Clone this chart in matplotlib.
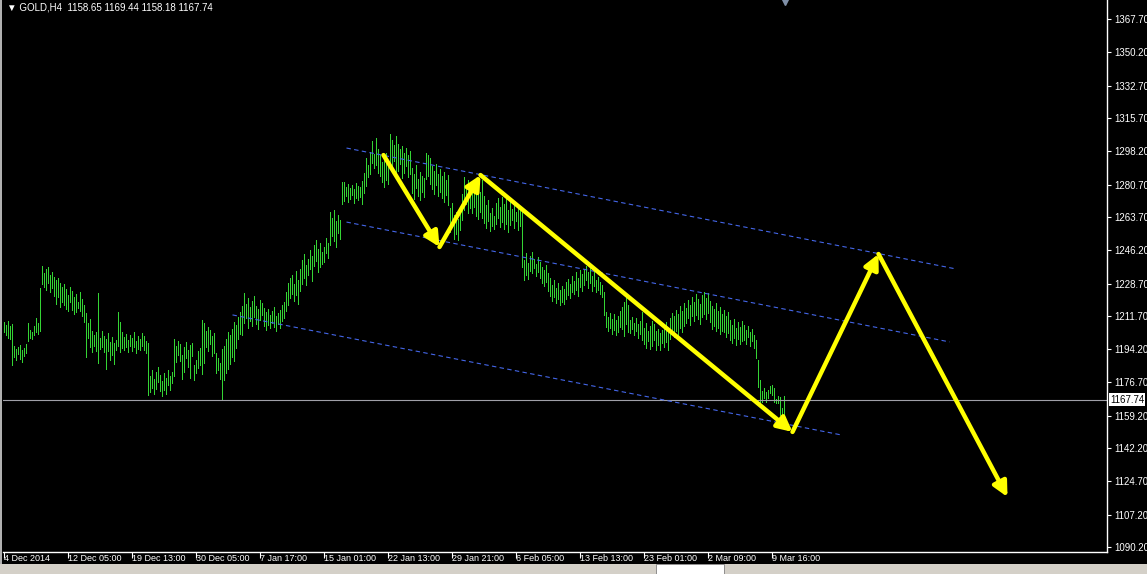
import numpy as np
import matplotlib
matplotlib.use('Agg')
import matplotlib.pyplot as plt
import matplotlib.transforms as mtransforms
from matplotlib.patches import Rectangle

plt.rcParams['font.family'] = ['Liberation Sans', 'DejaVu Sans']

# GOLD H4 bars (high / low)
highs = [
    1208.5, 1207.0, 1209.0, 1206.5, 1207.5, 1196.0, 1194.5, 1195.5, 1196.5, 1194.0,
    1195.0, 1197.0, 1208.0, 1204.5, 1203.0, 1206.5, 1210.5, 1208.0, 1226.5, 1238.0,
    1234.0, 1236.5, 1237.5, 1233.0, 1235.0, 1232.0, 1230.5, 1231.5, 1229.0, 1227.0,
    1228.5, 1226.0, 1222.5, 1227.0, 1225.0, 1221.5, 1223.0, 1219.0, 1224.0, 1220.5,
    1217.5, 1213.0, 1208.0, 1210.0, 1203.5, 1201.5, 1203.0, 1223.5, 1200.0, 1204.0,
    1201.0, 1199.5, 1202.5, 1198.0, 1200.5, 1197.5, 1199.0, 1213.5, 1208.5, 1203.0,
    1200.5, 1202.0, 1199.0, 1201.5, 1200.0, 1203.0, 1198.5, 1201.0, 1199.5, 1202.5,
    1201.0, 1198.5, 1197.5, 1180.0, 1183.5, 1178.5, 1182.0, 1185.0, 1180.5, 1177.5,
    1181.5, 1179.0, 1183.0, 1180.0, 1182.0, 1199.5, 1196.0, 1198.5, 1197.0, 1191.0,
    1195.5, 1198.0, 1194.0, 1196.5, 1197.5, 1186.0, 1188.5, 1193.0, 1195.0, 1209.5,
    1208.0, 1203.5, 1206.0, 1204.5, 1201.0, 1202.5, 1192.0, 1189.5, 1187.0, 1194.5,
    1196.0, 1199.5, 1203.0, 1201.5, 1205.0, 1208.5, 1207.0, 1211.0, 1213.5, 1217.0,
    1223.5, 1218.0, 1221.0, 1216.5, 1219.5, 1222.0, 1217.0, 1215.5, 1220.0, 1218.5,
    1216.0, 1213.5, 1215.5, 1212.0, 1214.5, 1216.5, 1211.5, 1213.0, 1215.0, 1217.5,
    1219.0, 1224.5, 1229.0, 1231.5, 1233.0, 1228.5, 1235.5, 1230.5, 1236.5, 1241.0,
    1244.0, 1238.5, 1241.5, 1246.5, 1243.0, 1249.0, 1251.5, 1247.0, 1250.0, 1245.5,
    1248.0, 1252.5, 1250.0, 1266.5, 1263.0, 1267.5, 1261.5, 1264.5, 1262.0, 1282.0,
    1282.0, 1279.5, 1281.0, 1279.0, 1280.5, 1278.5, 1281.5, 1280.0, 1279.5, 1282.5,
    1287.0, 1294.5, 1291.0, 1298.0, 1303.5, 1297.0, 1305.0, 1299.5, 1296.0, 1292.5,
    1293.5, 1297.5, 1290.5, 1307.5, 1304.0, 1301.5, 1306.0, 1302.0, 1299.5, 1301.0,
    1297.5, 1300.0, 1296.5, 1298.5, 1289.5, 1286.0, 1291.0, 1283.5, 1287.5, 1285.0,
    1284.0, 1297.5, 1296.0, 1294.5, 1290.5, 1288.0, 1291.5, 1286.0, 1289.0, 1285.0,
    1287.5, 1283.0, 1285.5, 1268.5, 1271.0, 1264.5, 1266.5, 1262.5, 1269.0, 1275.5,
    1284.5, 1280.0, 1283.0, 1278.5, 1281.5, 1279.0, 1276.0, 1280.5, 1277.0, 1283.0,
    1274.5, 1270.0, 1272.5, 1266.0, 1268.5, 1264.0, 1271.0, 1273.5, 1269.0, 1274.0,
    1270.5, 1273.0, 1267.5, 1271.5, 1268.0, 1272.0, 1266.5, 1270.0, 1268.5, 1267.5,
    1241.0, 1244.5, 1239.5, 1243.0, 1245.5, 1241.5, 1239.0, 1242.5, 1240.0, 1237.5,
    1236.0, 1238.5, 1234.0, 1231.5, 1228.0, 1230.5, 1226.5, 1229.0, 1225.5, 1227.5,
    1226.0, 1229.5, 1231.0, 1228.5, 1232.5, 1230.0, 1234.5, 1231.5, 1236.0, 1233.5,
    1236.5, 1238.0, 1234.5, 1237.0, 1232.5, 1235.0, 1230.5, 1232.0, 1229.5, 1228.0,
    1224.0, 1213.5, 1211.0, 1213.0, 1210.0, 1212.5, 1209.5, 1211.5, 1214.0, 1216.5,
    1219.0, 1222.5, 1217.5, 1209.5, 1211.0, 1208.0, 1210.5, 1207.5, 1209.0, 1213.5,
    1205.5, 1208.0, 1204.0, 1206.5, 1209.0, 1207.5, 1203.5, 1205.0, 1202.5, 1204.5,
    1206.0, 1208.5, 1205.0, 1210.5, 1213.0, 1211.5, 1215.0, 1212.5, 1217.0, 1214.5,
    1218.5, 1216.0, 1220.0, 1217.5, 1221.5, 1219.0, 1223.0, 1220.5, 1218.0, 1222.5,
    1224.0, 1221.0, 1223.5, 1219.5, 1217.0, 1215.5, 1218.5, 1214.0, 1216.5, 1212.5,
    1215.0, 1211.5, 1213.5, 1209.5, 1207.0, 1210.0, 1205.5, 1208.5, 1206.0, 1209.0,
    1207.0, 1204.5, 1206.5, 1203.0, 1205.0, 1201.5, 1199.0, 1188.5, 1178.0, 1172.0,
    1174.0, 1171.5, 1172.5, 1175.0, 1175.5, 1174.0, 1168.0, 1169.5, 1169.0, 1163.5,
    1169.44,
]
lows = [
    1203.0, 1201.5, 1200.0, 1199.5, 1186.0, 1190.0, 1188.5, 1191.5, 1189.0, 1187.5,
    1190.5, 1192.0, 1198.5, 1200.0, 1199.5, 1201.5, 1203.0, 1202.0, 1203.5, 1228.5,
    1227.0, 1225.5, 1229.0, 1224.0, 1226.5, 1222.0, 1218.0, 1221.5, 1216.5, 1219.0,
    1217.5, 1215.5, 1214.0, 1219.0, 1215.0, 1212.5, 1213.5, 1216.0, 1214.0, 1211.5,
    1208.5, 1190.0, 1200.0, 1195.5, 1192.5, 1196.0, 1193.0, 1187.0, 1194.5, 1195.5,
    1192.5, 1184.0, 1193.0, 1188.5, 1191.0, 1186.5, 1194.0, 1196.0, 1192.5, 1195.0,
    1194.0, 1195.5, 1192.5, 1196.0, 1193.0, 1195.5, 1192.0, 1194.5, 1193.5, 1196.0,
    1194.0, 1192.0, 1170.0, 1171.5, 1174.0, 1170.5, 1173.5, 1177.0, 1172.0, 1169.5,
    1172.5, 1170.5, 1175.5, 1173.0, 1176.5, 1180.0, 1187.5, 1191.0, 1188.0, 1178.5,
    1182.0, 1189.5, 1185.0, 1179.0, 1190.5, 1178.0, 1181.5, 1184.5, 1186.0, 1181.0,
    1187.0, 1195.5, 1193.0, 1197.0, 1190.5, 1192.0, 1181.5, 1183.0, 1178.5, 1167.5,
    1178.0, 1181.5, 1184.0, 1186.5, 1190.0, 1188.0, 1195.0, 1199.5, 1202.0, 1201.5,
    1208.0, 1210.5, 1205.5, 1209.0, 1206.5, 1211.0, 1207.5, 1205.0, 1209.5, 1212.0,
    1206.5, 1204.5, 1207.0, 1205.5, 1208.0, 1206.0, 1204.0, 1207.5, 1205.5, 1209.0,
    1210.5, 1214.0, 1217.5, 1221.0, 1223.0, 1219.5, 1222.5, 1218.0, 1225.0, 1228.5,
    1231.5, 1228.0, 1233.0, 1236.5, 1230.0, 1238.0, 1240.5, 1235.0, 1237.5, 1239.0,
    1240.0, 1244.5, 1242.0, 1249.0, 1253.5, 1251.0, 1248.0, 1255.5, 1252.0, 1270.5,
    1272.0, 1274.5, 1271.5, 1273.0, 1275.0, 1271.0, 1273.5, 1272.5, 1274.0, 1270.5,
    1276.5, 1280.0, 1284.5, 1286.0, 1292.0, 1289.5, 1291.0, 1287.0, 1285.0, 1282.0,
    1279.5, 1283.0, 1281.0, 1290.5, 1289.0, 1293.0, 1286.5, 1288.0, 1291.5, 1284.0,
    1287.0, 1290.5, 1284.5, 1286.0, 1276.5, 1273.0, 1279.0, 1274.5, 1272.5, 1277.0,
    1274.0, 1283.5, 1285.0, 1281.0, 1278.5, 1276.0, 1280.5, 1274.5, 1277.0, 1273.5,
    1271.5, 1275.0, 1270.0, 1256.0, 1258.5, 1252.0, 1254.5, 1251.5, 1257.0, 1262.0,
    1267.5, 1270.5, 1266.0, 1268.5, 1265.5, 1269.0, 1264.0, 1262.5, 1266.5, 1263.0,
    1260.5, 1258.0, 1261.5, 1256.5, 1259.0, 1257.5, 1260.0, 1263.0, 1258.5, 1261.0,
    1257.5, 1260.0, 1256.0, 1259.5, 1262.0, 1258.0, 1261.5, 1257.0, 1259.0, 1237.5,
    1230.5, 1233.0, 1231.0, 1235.5, 1234.0, 1237.0, 1232.5, 1235.0, 1231.5, 1229.0,
    1227.5, 1229.5, 1225.0, 1222.0, 1219.5, 1221.5, 1218.5, 1220.5, 1217.5, 1219.0,
    1218.0, 1220.5, 1222.5, 1221.0, 1224.0, 1223.0, 1225.5, 1222.0, 1227.0, 1225.0,
    1228.0, 1230.5, 1226.5, 1229.0, 1225.0, 1227.5, 1224.0, 1225.5, 1223.0, 1221.5,
    1212.0, 1206.0, 1203.5, 1205.5, 1202.0, 1204.5, 1201.5, 1203.0, 1206.0, 1205.0,
    1201.0, 1207.5, 1203.0, 1202.5, 1205.0, 1201.5, 1203.5, 1200.0, 1202.0, 1199.0,
    1197.0, 1195.0, 1198.5, 1194.5, 1196.0, 1199.0, 1193.5, 1196.5, 1194.0, 1197.5,
    1195.5, 1198.0, 1194.0, 1199.5, 1202.0, 1200.5, 1204.0, 1201.5, 1205.5, 1203.0,
    1206.5, 1208.0, 1210.5, 1207.0, 1211.5, 1209.0, 1212.0, 1210.0, 1207.5, 1211.0,
    1212.5, 1210.0, 1213.0, 1208.5, 1205.0, 1206.5, 1203.5, 1205.5, 1202.0, 1204.0,
    1203.0, 1200.5, 1202.5, 1199.0, 1197.5, 1200.0, 1196.5, 1199.5, 1197.0, 1198.5,
    1199.0, 1197.0, 1200.5, 1196.0, 1198.5, 1195.0, 1189.5, 1174.5, 1165.0, 1166.5,
    1168.5, 1166.5, 1168.5, 1171.0, 1170.0, 1166.5, 1166.0, 1166.0, 1159.5, 1156.0,
    1158.18,
]

last_price = 1167.74

# hand drawn zigzag (bar index, price)
zigzag_x = [190, 218, 238.5, 394.5, 437.5, 502]
zigzag_y = [1296.2, 1247.9, 1285.7, 1150.7, 1244.2, 1116.5]

# channel lines (start bar, start price, end bar, end price)
channel_upper = [171.5, 1299.9, 476.5, 1236.3]
channel_mid = [171.5, 1261.0, 473.0, 1198.0]
channel_low = [114.5, 1212.2, 419.0, 1149.1]

price_ticks = [1367.70, 1350.20, 1332.70, 1315.70, 1298.20, 1280.70, 1263.70, 1246.20,
               1228.70, 1211.70, 1194.20, 1176.70, 1159.20, 1142.20, 1124.70, 1107.20, 1090.20]
date_ticks = [0, 32, 64, 96, 128, 160, 192, 224, 256, 288, 320, 352, 384]
date_labels = ['4 Dec 2014', '12 Dec 05:00', '19 Dec 13:00', '30 Dec 05:00', '7 Jan 17:00',
               '15 Jan 01:00', '22 Jan 13:00', '29 Jan 21:00', '6 Feb 05:00', '13 Feb 13:00',
               '23 Feb 01:00', '2 Mar 09:00', '9 Mar 16:00']

W, H = 1147, 574
fig = plt.figure(figsize=(W / 100, H / 100), dpi=100, facecolor='black')
ax = fig.add_axes([3 / W, 22 / H, 1104 / W, 552 / H], facecolor='black')

bars_x = np.arange(len(highs))
ax.vlines(bars_x, lows, highs, colors='#34d434', linewidth=0.7, antialiased=False)

ax.axhline(last_price, color='#a0a0a8', linewidth=0.8)

for c in (channel_upper, channel_mid, channel_low):
    ax.plot([c[0], c[2]], [c[1], c[3]], color='#4466e8', linewidth=0.8,
            linestyle=(0, (4, 3)))

for i in range(len(zigzag_x) - 1):
    ax.annotate('', xy=(zigzag_x[i + 1], zigzag_y[i + 1]), xytext=(zigzag_x[i], zigzag_y[i]),
                arrowprops=dict(arrowstyle='-|>', color='#ffff00', lw=3.2,
                                mutation_scale=22, shrinkA=0, shrinkB=0))

ax.set_xlim(-0.25, 551.75)
ax.set_ylim(1087.6, 1377.7)

for s in ('top', 'left'):
    ax.spines[s].set_visible(False)
for s in ('right', 'bottom'):
    ax.spines[s].set_color('white')
    ax.spines[s].set_linewidth(1)

ax.yaxis.tick_right()
ax.set_yticks(price_ticks)
ax.set_yticklabels(['%.2f' % p for p in price_ticks])
ax.tick_params(axis='y', colors='white', length=3, width=0.8, pad=2, labelsize=7)

ax.set_xticks(date_ticks)
ax.set_xticklabels(date_labels, ha='left')
ax.tick_params(axis='x', colors='white', length=4, width=0.8, pad=-2.5, labelsize=6.5)

trans = mtransforms.blended_transform_factory(ax.transAxes, ax.transData)
ax.text(1.0 + 3 / 1104, last_price, '%.2f' % last_price, transform=trans, ha='left',
        va='center', color='black', fontsize=7,
        bbox=dict(boxstyle='square,pad=0.12', fc='white', ec='none'))

# chart shift marker at the top
trans2 = mtransforms.blended_transform_factory(ax.transData, ax.transAxes)
ax.plot([390.5], [0.997], marker='v', markersize=5, color='#8090a8', transform=trans2,
        clip_on=False)

fig.text(7 / W, 1 - 8 / H, '\u25bc GOLD,H4  1158.65 1169.44 1158.18 1167.74',
         color='white', fontsize=7, va='center', ha='left')

# window borders
fig.patches.append(Rectangle((0, 0), 1, 10 / H, transform=fig.transFigure,
                             facecolor='#d4d0c8', edgecolor='none'))
fig.patches.append(Rectangle((656 / W, 0), 68 / W, 10 / H, transform=fig.transFigure,
                             facecolor='white', edgecolor='#808080', linewidth=0.6))
fig.patches.append(Rectangle((0, 10 / H), 2 / W, 1, transform=fig.transFigure,
                             facecolor='#b0b0b0', edgecolor='none'))

fig.savefig('out.png', dpi=100, facecolor='black')
